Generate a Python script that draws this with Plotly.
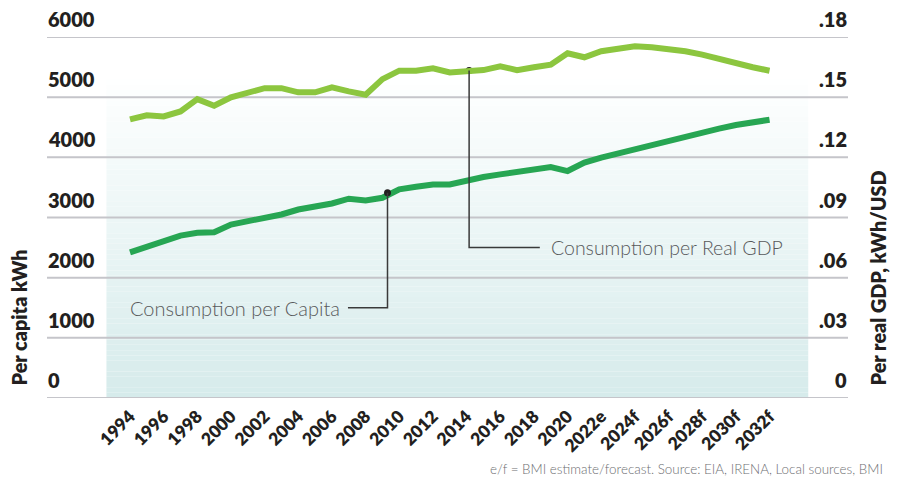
import plotly.graph_objects as go

# ---------------- data ----------------
years = list(range(1994, 2033))
per_capita_kwh = [2422, 2522, 2605, 2700, 2745, 2755, 2883, 2938, 3005, 3050,
                  3133, 3178, 3233, 3312, 3283, 3328, 3467, 3512, 3550, 3550,
                  3617, 3672, 3717, 3755, 3817, 3838, 3772, 3912, 3995, 4067,
                  4133, 4200, 4272, 4338, 4412, 4478, 4538, 4580, 4625]
per_gdp_kwh_usd = [0.1389, 0.1410, 0.1404, 0.1429, 0.1490, 0.1457, 0.1499, 0.1524,
                   0.1545, 0.1545, 0.1524, 0.1524, 0.1549, 0.1529, 0.1512, 0.1590,
                   0.1632, 0.1632, 0.1644, 0.1623, 0.1632, 0.1635, 0.1654, 0.1635,
                   0.1649, 0.1662, 0.1719, 0.1699, 0.1729, 0.1745, 0.1754, 0.1749,
                   0.1740, 0.1729, 0.1712, 0.1690, 0.1669, 0.1649, 0.1632]

x_tick_vals = list(range(1994, 2033, 2))
x_tick_text = ["1994", "1996", "1998", "2000", "2002", "2004", "2006", "2008",
               "2010", "2012", "2014", "2016", "2018", "2020", "2022e", "2024f",
               "2026f", "2028f", "2030f", "2032f"]
left_tick_vals = [0, 1000, 2000, 3000, 4000, 5000, 6000]
left_tick_text = ["0", "1000", "2000", "3000", "4000", "5000", "6000"]
right_tick_vals = [0, 0.03, 0.06, 0.09, 0.12, 0.15, 0.18]
right_tick_text = ["0", ".03", ".06", ".09", ".12", ".15", ".18"]

capita_label = "Consumption per Capita"
gdp_label = "Consumption per Real GDP"
left_title = "Per capita kWh"
right_title = "Per real GDP, kWh/USD"
footnote = "e/f = BMI estimate/forecast. Source: EIA, IRENA, Local sources, BMI"

# callout anchor points
capita_dot = (2009.3, 3410)
gdp_dot = (2014.15, 0.1633)

# ---------------- style ----------------
OFF = 8                      # page body margin of the html page
W, H = 901 - OFF, 479 - OFF
L, T = 47 - OFF, 37 - OFF
PW, PH = 801, 361
R, B = W - L - PW, H - T - PH
DARK_GREEN = "#27a653"
LIGHT_GREEN = "#8cc63f"
GRID = "#c5c5ca"
TXT = "#231f20"
GREY_TXT = "#58595b"
BOLD = "Lato"
LIGHT = "Lato"

Y_MAX = 6000
Y2_MAX = 0.18
ratio = Y_MAX / Y2_MAX

PX_PER_YEAR = 16.83
x0 = 1994 - (130 - 47) / PX_PER_YEAR
x1 = x0 + PW / PX_PER_YEAR


def px_to_paper_x(px):
    return (px - 47) / PW


def px_to_paper_y(py):
    return (398 - py) / PH


fig = go.Figure()

fig.add_trace(go.Scatter(x=years, y=per_capita_kwh, mode="lines",
                         line=dict(color=DARK_GREEN, width=6),
                         name=capita_label, yaxis="y"))
fig.add_trace(go.Scatter(x=years, y=per_gdp_kwh_usd, mode="lines",
                         line=dict(color=LIGHT_GREEN, width=6),
                         name=gdp_label, yaxis="y2"))

# background gradient band (decorative)
shapes = []
band_top, band_bot = 5300, 0
n = 60
c_top = (254, 255, 255)
c_bot = (214, 235, 235)
for i in range(n):
    y0 = band_bot + (band_top - band_bot) * i / n
    y1 = band_bot + (band_top - band_bot) * (i + 1) / n
    t = (i + 0.5) / n
    c = tuple(round(c_bot[k] + (c_top[k] - c_bot[k]) * t) for k in range(3))
    shapes.append(dict(type="rect", xref="x", yref="y", x0=1992.6, x1=2034.3,
                       y0=y0, y1=y1, fillcolor="rgb(%d,%d,%d)" % c,
                       line=dict(width=0), layer="below"))

# horizontal gridlines at the left-axis ticks
for v in left_tick_vals:
    shapes.append(dict(type="line", xref="x", yref="y", x0=x0, x1=x1, y0=v, y1=v,
                       line=dict(color=GRID, width=2), layer="below"))

# leader lines
LEADER = dict(color="#3a3a3a", width=1.5)
cap_text_y = 1500
shapes.append(dict(type="path", xref="x", yref="y",
                   path="M 2006.95 %f L %f %f L %f %f" % (cap_text_y, capita_dot[0], cap_text_y,
                                                         capita_dot[0], capita_dot[1]),
                   line=LEADER))
gdp_text_y = 2500
shapes.append(dict(type="path", xref="x", yref="y",
                   path="M 2018.35 %f L %f %f L %f %f" % (gdp_text_y, gdp_dot[0], gdp_text_y,
                                                         gdp_dot[0], gdp_dot[1] * ratio),
                   line=LEADER))

fig.add_trace(go.Scatter(x=[capita_dot[0], gdp_dot[0]],
                         y=[capita_dot[1], gdp_dot[1] * ratio], mode="markers",
                         marker=dict(color="#231f20", size=7), yaxis="y"))

annotations = []
TICKFONT = dict(family=BOLD, size=20, color=TXT, weight=800)
for v, t in zip(left_tick_vals, left_tick_text):
    annotations.append(dict(xref="paper", x=0, xanchor="left", yref="y", y=v,
                            yanchor="bottom", yshift=5, text=t, borderpad=0,
                            showarrow=False, font=TICKFONT))
for v, t in zip(right_tick_vals, right_tick_text):
    annotations.append(dict(xref="paper", x=1, xanchor="right", yref="y2", y=v,
                            yanchor="bottom", yshift=5, text=t, borderpad=0,
                            showarrow=False, font=TICKFONT))

TITLEFONT = dict(family=BOLD, size=19.8, color=TXT, weight=800)
annotations.append(dict(xref="paper", yref="paper", x=px_to_paper_x(18.5), y=px_to_paper_y(387),
                        xanchor="center", yanchor="bottom", textangle=-90, borderpad=0,
                        text=left_title, showarrow=False, font=TITLEFONT))
annotations.append(dict(xref="paper", yref="paper", x=px_to_paper_x(877), y=px_to_paper_y(387),
                        xanchor="center", yanchor="bottom", textangle=-90, borderpad=0,
                        text=right_title, showarrow=False, font=TITLEFONT))
annotations.append(dict(xref="paper", yref="paper", x=px_to_paper_x(885), y=px_to_paper_y(469),
                        xanchor="right", yanchor="middle", text=footnote, showarrow=False,
                        font=dict(family=LIGHT, size=13.4, color="#6d6e71", weight=300)))
annotations.append(dict(xref="x", yref="y", x=1993.9, y=cap_text_y, xanchor="left",
                        yanchor="middle", text=capita_label, showarrow=False,
                        font=dict(family=LIGHT, size=20, color=GREY_TXT, weight=300)))
annotations.append(dict(xref="x", yref="y", x=2018.9, y=gdp_text_y, xanchor="left",
                        yanchor="middle", text=gdp_label, showarrow=False,
                        font=dict(family=LIGHT, size=19.5, color=GREY_TXT, weight=300)))

fig.update_layout(
    width=W, height=H,
    margin=dict(l=L, r=R, t=T, b=B, autoexpand=False),
    paper_bgcolor="white", plot_bgcolor="rgba(0,0,0,0)",
    showlegend=False,
    shapes=shapes,
    annotations=annotations,
    xaxis=dict(range=[x0, x1], tickvals=x_tick_vals, ticktext=x_tick_text,
               tickangle=-45, showgrid=False, zeroline=False, showline=False,
               automargin=False, ticklabelstandoff=4,
               ticks="", tickfont=dict(family=BOLD, size=17.5, color=TXT, weight=800)),
    yaxis=dict(range=[0, Y_MAX], showticklabels=False, automargin=False,
               showgrid=False, zeroline=False, showline=False, ticks=""),
    yaxis2=dict(range=[0, Y2_MAX], overlaying="y", side="right", showgrid=False,
                automargin=False,
                showticklabels=False, zeroline=False, showline=False, ticks=""),
)

fig.write_html("out.html")
